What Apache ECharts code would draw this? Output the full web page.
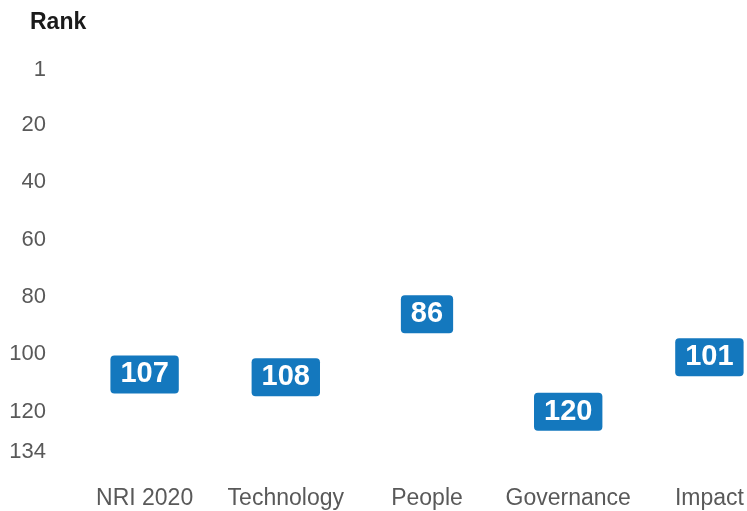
<!DOCTYPE html>
<html>
<head>
<meta charset="utf-8">
<script src="https://cdn.jsdelivr.net/npm/echarts@6/dist/echarts.min.js"></script>
<style>html,body{margin:0;padding:0;background:#fff}#c{width:747px;height:511px}</style>
</head>
<body>
<div id="c"></div>
<script>
const categories = ['NRI 2020', 'Technology', 'People', 'Governance', 'Impact'];
const ranks = [107, 108, 86, 120, 101];
const rankTicks = [1, 20, 40, 60, 80, 100, 120, 134];

const chart = echarts.init(document.getElementById('c'));
chart.setOption({
  animation: false,
  textStyle: { fontFamily: 'Liberation Sans, Arial, sans-serif' },
  title: {
    text: 'Rank', left: 25, top: 6,
    textStyle: { fontSize: 23, fontWeight: 'bold', color: '#1a1a1a' }
  },
  grid: { left: 74, width: 706, top: 70, bottom: 59, containLabel: false, outerBoundsMode: 'none' },
  xAxis: {
    type: 'category',
    data: categories,
    axisLine: { show: false },
    axisTick: { show: false },
    axisLabel: { fontSize: 23, color: '#595959', margin: 35, interval: 0 }
  },
  yAxis: {
    type: 'value',
    inverse: true,
    min: 1,
    max: 134,
    splitLine: { show: false },
    axisLine: { show: false },
    axisTick: { show: false },
    axisLabel: { fontSize: 22, color: '#595959', margin: 28, customValues: rankTicks }
  },
  series: [{
    type: 'scatter',
    data: ranks,
    symbolSize: 0,
    itemStyle: { color: '#1478be', opacity: 1 },
    label: {
      show: true,
      position: 'inside',
      formatter: '{c}',
      color: '#fff',
      fontSize: 29,
      fontWeight: 'bold',
      backgroundColor: '#1478be',
      borderRadius: 4,
      padding: [5, 10, 4, 10]
    }
  }]
});
</script>
</body>
</html>
